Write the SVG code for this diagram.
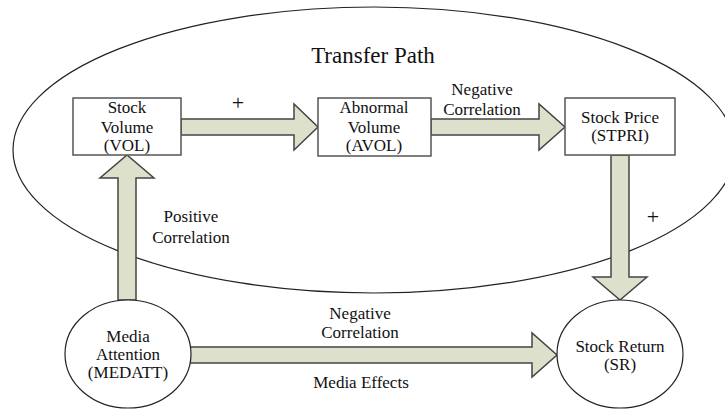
<svg xmlns="http://www.w3.org/2000/svg" width="725" height="409" viewBox="0 0 725 409">
<style>
text{fill:#111;text-anchor:middle}
.lbl{font-size:17px}
.plus{font-size:22px}
.title{font-size:23px}
.box{fill:#fff;stroke:#555;stroke-width:1.5}
.circ{fill:#fff;stroke:#222;stroke-width:1.2}
.arrow{fill:#dde0cb;stroke:#444;stroke-width:1.5;stroke-linejoin:miter}
</style>
<rect width="725" height="409" fill="#fff"/>
<g font-family="Liberation Serif, DejaVu Serif, serif">
<g id="transfer-path">
<ellipse cx="374" cy="150" rx="361" ry="143" fill="none" stroke="#222" stroke-width="1.2"/>
<text class="title" x="373" y="63">Transfer Path</text>
</g>
<g id="connectors">
<polygon class="arrow" points="181,119 294,119 294,104 318,127 294,150 294,135 181,135"/>
<polygon class="arrow" points="431,119 539,119 539,104 565,127 539,150 539,135 431,135"/>
<polygon class="arrow" points="611,155 629,155 629,277 647,277 620,300 593,277 611,277"/>
<polygon class="arrow" points="118,300 118,178 100,178 127,155 154,178 136,178 136,300"/>
<polygon class="arrow" points="190,347 532,347 532,333 557,355 532,377 532,363 190,363"/>
<text class="plus" x="238" y="110">+</text>
<text class="lbl" x="482" y="95">Negative</text>
<text class="lbl" x="482" y="115">Correlation</text>
<text class="plus" x="653" y="224">+</text>
<text class="lbl" x="191" y="222">Positive</text>
<text class="lbl" x="191" y="243">Correlation</text>
<text class="lbl" x="360" y="319">Negative</text>
<text class="lbl" x="360" y="338">Correlation</text>
<text class="lbl" x="361" y="388">Media Effects</text>
</g>
<g id="stock-volume">
<rect class="box" x="73" y="98" width="108" height="57"/>
<text class="lbl" x="127" y="113">Stock</text>
<text class="lbl" x="127" y="133">Volume</text>
<text class="lbl" x="127" y="151">(VOL)</text>
</g>
<g id="abnormal-volume">
<rect class="box" x="318" y="98" width="113" height="58"/>
<text class="lbl" x="374" y="113">Abnormal</text>
<text class="lbl" x="374" y="133">Volume</text>
<text class="lbl" x="374" y="151">(AVOL)</text>
</g>
<g id="stock-price">
<rect class="box" x="565" y="98" width="110" height="57"/>
<text class="lbl" x="620" y="123">Stock Price</text>
<text class="lbl" x="620" y="141">(STPRI)</text>
</g>
<g id="media-attention">
<ellipse class="circ" cx="128" cy="354" rx="63" ry="54"/>
<text class="lbl" x="128" y="342">Media</text>
<text class="lbl" x="128" y="360">Attention</text>
<text class="lbl" x="128" y="378">(MEDATT)</text>
</g>
<g id="stock-return">
<ellipse class="circ" cx="620" cy="354" rx="63" ry="54"/>
<text class="lbl" x="620" y="352">Stock Return</text>
<text class="lbl" x="620" y="370">(SR)</text>
</g>
</g>
</svg>
